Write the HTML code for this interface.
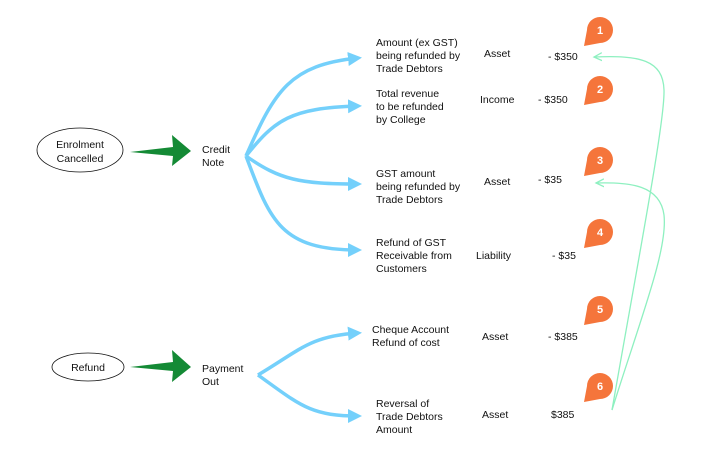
<!DOCTYPE html>
<html><head><style>
body{margin:0;background:#fff;}
svg text{font-family:"Liberation Sans",sans-serif;font-size:10.5px;fill:#111;}
.m text{fill:#fff;font-weight:bold;font-size:11px;}
</style></head><body>
<svg width="704" height="457" viewBox="0 0 704 457" xmlns="http://www.w3.org/2000/svg">
<defs>
<marker id="b" markerWidth="16" markerHeight="16" refX="10" refY="8" orient="auto" markerUnits="userSpaceOnUse"><path d="M0,1 L14,8 L0,15 z" fill="#74d0fb"/></marker>
<marker id="g" markerWidth="10" markerHeight="10" refX="8" refY="5" orient="auto" markerUnits="userSpaceOnUse"><path d="M0,1 L8,5 L0,9" fill="none" stroke="#8ef0c0" stroke-width="1.3"/></marker>
</defs>
<ellipse cx="80" cy="150" rx="43" ry="22" fill="#fff" stroke="#111" stroke-width="0.8"/>
<text x="80" y="148" text-anchor="middle">Enrolment</text>
<text x="80" y="162" text-anchor="middle">Cancelled</text>
<ellipse cx="88" cy="367" rx="36" ry="14" fill="#fff" stroke="#111" stroke-width="0.8"/>
<text x="88" y="371" text-anchor="middle">Refund</text>
<path d="M130,152 L173,147 L172,135 L191,151 L172,166 L173,156 Z" fill="#148a35"/>
<path d="M130,367 L173,362 L172,350 L191,367 L172,382 L173,371 Z" fill="#148a35"/>
<text x="202" y="153">Credit</text><text x="202" y="166">Note</text>
<text x="202" y="372">Payment</text><text x="202" y="385">Out</text>
<g fill="none" stroke="#74d0fb" stroke-width="3.5" marker-end="url(#b)">
<path d="M246,156 C275,90 290,65 358,58"/>
<path d="M246,156 C275,120 290,108 358,106"/>
<path d="M246,156 C280,180 300,184 358,184"/>
<path d="M246,156 C270,220 280,250 358,250"/>
<path d="M258,375 C300,350 310,336 358,333"/>
<path d="M258,375 C300,405 310,416 358,416"/>
</g>
<text x="376" y="46">Amount (ex GST)</text><text x="376" y="59">being refunded by</text><text x="376" y="72">Trade Debtors</text>
<text x="484" y="57">Asset</text><text x="548" y="60">- $350</text>
<text x="376" y="97">Total revenue</text><text x="376" y="110">to be refunded</text><text x="376" y="123">by College</text>
<text x="480" y="103">Income</text><text x="538" y="103">- $350</text>
<text x="376" y="177">GST amount</text><text x="376" y="190">being refunded by</text><text x="376" y="203">Trade Debtors</text>
<text x="484" y="185">Asset</text><text x="538" y="183">- $35</text>
<text x="376" y="246">Refund of GST</text><text x="376" y="259">Receivable from</text><text x="376" y="272">Customers</text>
<text x="476" y="259">Liability</text><text x="552" y="259">- $35</text>
<text x="372" y="333">Cheque Account</text><text x="372" y="346">Refund of cost</text>
<text x="482" y="340">Asset</text><text x="548" y="340">- $385</text>
<text x="376" y="407">Reversal of</text><text x="376" y="420">Trade Debtors</text><text x="376" y="433">Amount</text>
<text x="482" y="418">Asset</text><text x="551" y="418">$385</text>
<g fill="none" stroke="#8ef0c0" stroke-width="1.3" marker-end="url(#g)">
<path d="M612,410 C640,250 665,120 664,90 C663,60 640,55 594,57"/>
<path d="M612,410 C640,320 668,250 664,215 C660,185 630,182 596,183"/>
</g>
<g class="m">
<g transform="translate(600,30)"><path d="M-13,0 A13,13 0 1 1 0,13 L-16,16 Z" fill="#f5753b"/><text x="0" y="4" text-anchor="middle">1</text></g>
<g transform="translate(600,89)"><path d="M-13,0 A13,13 0 1 1 0,13 L-16,16 Z" fill="#f5753b"/><text x="0" y="4" text-anchor="middle">2</text></g>
<g transform="translate(600,160)"><path d="M-13,0 A13,13 0 1 1 0,13 L-16,16 Z" fill="#f5753b"/><text x="0" y="4" text-anchor="middle">3</text></g>
<g transform="translate(600,232)"><path d="M-13,0 A13,13 0 1 1 0,13 L-16,16 Z" fill="#f5753b"/><text x="0" y="4" text-anchor="middle">4</text></g>
<g transform="translate(600,309)"><path d="M-13,0 A13,13 0 1 1 0,13 L-16,16 Z" fill="#f5753b"/><text x="0" y="4" text-anchor="middle">5</text></g>
<g transform="translate(600,386)"><path d="M-13,0 A13,13 0 1 1 0,13 L-16,16 Z" fill="#f5753b"/><text x="0" y="4" text-anchor="middle">6</text></g>
</g>
</svg>
</body></html>
